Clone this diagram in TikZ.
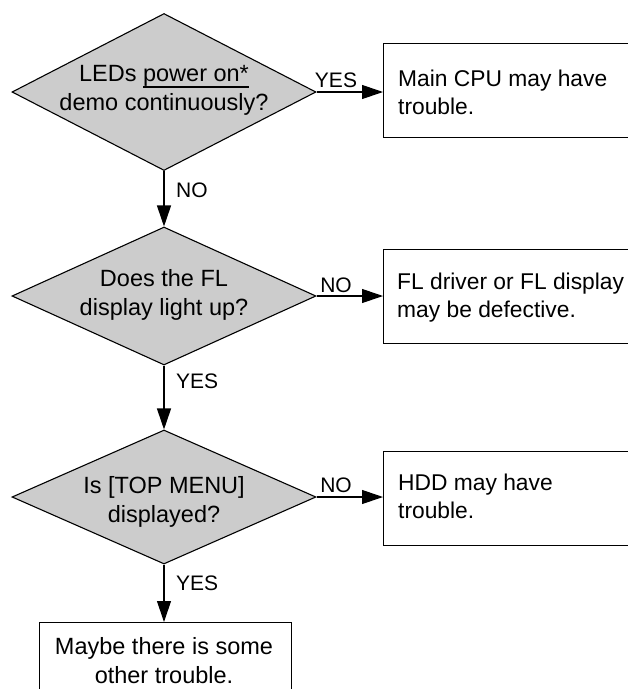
\documentclass[tikz,border=0pt]{standalone}
\usepackage{fontspec}
\setmainfont{Liberation Sans}
\usetikzlibrary{shapes.geometric,arrows.meta}
\definecolor{dfill}{RGB}{204,204,204}
\newcommand\myul[1]{\setbox0\hbox{#1}\rlap{\rule[-6.5pt]{\wd0}{1.1pt}}\box0}
\begin{document}
\begin{tikzpicture}[x=1pt,y=1pt,
  decision/.style={draw, line width=1.1pt, fill=dfill, shape=diamond, inner sep=0pt,
    minimum width=304pt, minimum height=#1},
  outbox/.style={draw, line width=1.1pt, fill=white, rectangle, inner sep=0pt, anchor=north west,
    minimum width=#1, minimum height=94pt},
  qtext/.style={align=center, inner sep=0pt, anchor=base, font=\fontsize{23.5}{29}\selectfont},
  btext/.style={align=left, inner sep=0pt, anchor=base west, font=\fontsize{22.8}{28}\selectfont},
  lbl/.style={inner sep=0pt, font=\fontsize{21}{25}\selectfont},
  conn/.style={line width=1.1pt, -{Triangle[length=21pt,width=14pt]}}
]
\useasboundingbox (0,0) rectangle (628,-689);

% decisions
\node[decision=157pt] (d1) at (164,-92) {};
\node[decision=138pt] (d2) at (164,-296) {};
\node[decision=134pt] (d3) at (164,-497) {};
\node[qtext] (t1) at (164,-110) {LEDs \myul{power on*}\\demo continuously?};
\node[qtext] (t2) at (164,-315) {Does the FL\\display light up?};
\node[qtext] (t3) at (164,-522) {Is [TOP MENU]\\displayed?};

% outcome boxes
\node[outbox=280pt] (b1) at (383,-43) {};
\node[outbox=280pt] (b2) at (383,-249) {};
\node[outbox=280pt] (b3) at (383,-451) {};
\node[outbox=252pt, minimum height=100pt] (b4) at (39,-622) {};
\node[btext] (bt1) at (398,-114) {Main CPU may have\\trouble.};
\node[btext] (bt2) at (397,-317) {FL driver or FL display\\may be defective.};
\node[btext] (bt3) at (398,-518) {HDD may have\\trouble.};
\node[qtext] (bt4) at (164,-683) {Maybe there is some\\other trouble.};

% connectors
\draw[conn] (d1.east) -- (d1.east -| b1.west);
\draw[conn] (d2.east) -- (d2.east -| b2.west);
\draw[conn] (d3.east) -- (d3.east -| b3.west);
\draw[conn] (d1.south) -- (d2.north);
\draw[conn] (d2.south) -- (d3.north);
\draw[conn] (d3.south) -- (d3.south |- b4.north);

% labels
\node[lbl, anchor=base] (l1) at (336,-87) {YES};
\node[lbl, anchor=base] (l2) at (336,-292) {NO};
\node[lbl, anchor=base] (l3) at (336,-492) {NO};
\node[lbl, anchor=base west] (l4) at (176,-197) {NO};
\node[lbl, anchor=base west] (l5) at (176,-388) {YES};
\node[lbl, anchor=base west] (l6) at (176,-590) {YES};
\end{tikzpicture}
\end{document}
